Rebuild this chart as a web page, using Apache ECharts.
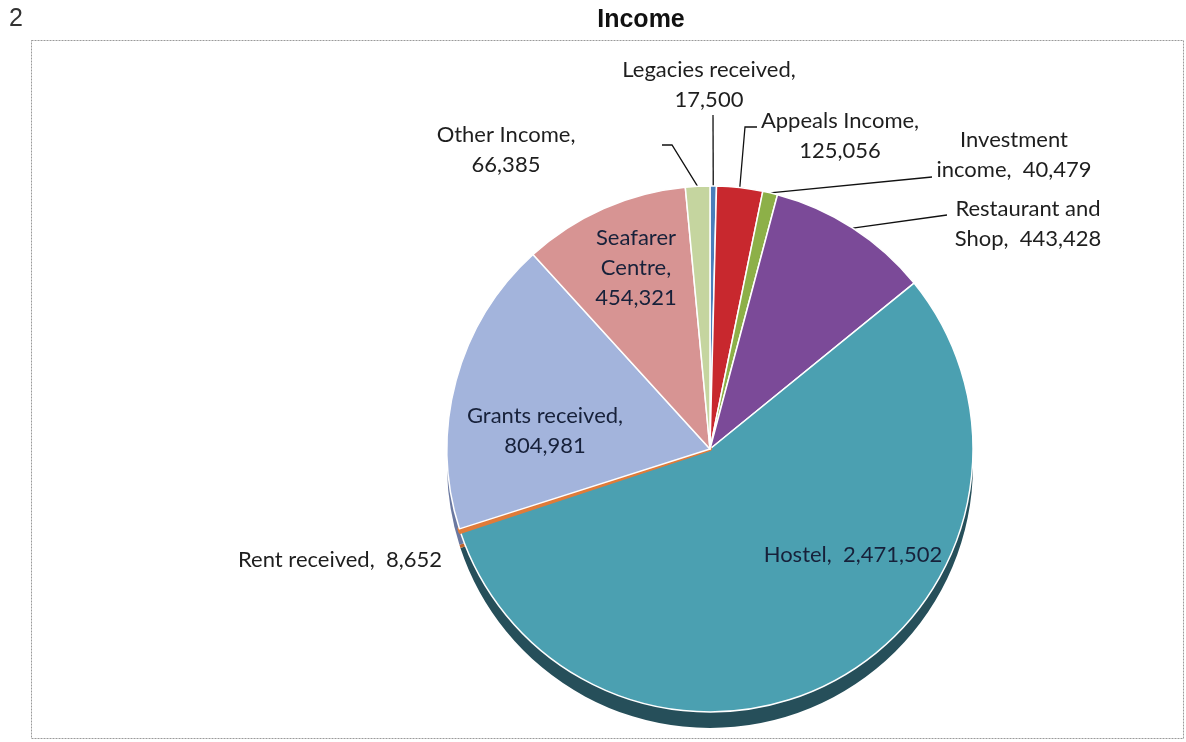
<!DOCTYPE html>
<html>
<head>
<meta charset="utf-8">
<script src="https://cdn.jsdelivr.net/npm/echarts@6/dist/echarts.min.js"></script>
<style>
  html, body { margin: 0; padding: 0; background: #ffffff; }
  #chart { width: 1186px; height: 742px; }
</style>
</head>
<body>
<div id="chart"></div>
<script>
// Income by source, slices run clockwise from 12 o'clock
const categories = [
  'Legacies received', 'Appeals Income', 'Investment income', 'Restaurant and Shop',
  'Hostel', 'Rent received', 'Grants received', 'Seafarer Centre', 'Other Income'
];
const values = [17500, 125056, 40479, 443428, 2471502, 8652, 804981, 454321, 66385];

// Label wording (value appended from the data)
const labelHeads = [
  'Legacies received,\n', 'Appeals Income,\n', 'Investment\nincome,  ', 'Restaurant and\nShop,  ',
  'Hostel,  ', 'Rent received,  ', 'Grants received,\n', 'Seafarer\nCentre,\n', 'Other Income,\n'
];

// Top-face and side colours per slice
const faceColors = ['#4a7ebb', '#c8282e', '#8db048', '#7b4a98', '#4ba0b1', '#e07b39', '#a3b4dc', '#d79493', '#c5d59f'];
const sideColors = ['#2c5282', '#7d1a1e', '#5a7429', '#4b2a60', '#264f5a', '#c0642a', '#6a78a0', '#6e3034', '#8a9868'];

// Where each label block sits
const labelSpots = [
  [709, 85], [840, 136], [1014, 155], [1028, 224],
  [853, 555], [340, 560], [545, 431], [636, 268], [506, 150]
];
const insideLabels = [4, 5, 6, 7];

// Leader-line bends after leaving the slice rim
const leaderBends = {
  0: [[713, 115]],
  1: [[745, 127], [757, 127]],
  2: [[932, 177]],
  3: [[947, 215]],
  8: [[672, 145], [662, 145]]
};

const fmt = v => v.toLocaleString('en-US');

const pieCenter = [710, 449];
const pieRadius = 263;
const depth = 16;

// Mid-angle of every slice, degrees clockwise from 12 o'clock
const total = values.reduce((a, b) => a + b, 0);
const midAngles = [];
values.reduce((acc, v) => { midAngles.push((acc + v / 2) / total * 360); return acc + v; }, 0);

function rimPoint(i) {
  const a = midAngles[i] * Math.PI / 180;
  return [pieCenter[0] + pieRadius * Math.sin(a), pieCenter[1] - pieRadius * Math.cos(a)];
}

const chart = echarts.init(document.getElementById('chart'), null, { renderer: 'canvas' });

const faceData = categories.map((name, i) => ({
  name,
  value: values[i],
  // the thin rent wedge shows its orange side wall along the edge
  itemStyle: i === 5
    ? { color: faceColors[i], borderColor: faceColors[i], borderWidth: 4 }
    : { color: faceColors[i] },
  label: [4, 6, 7].includes(i) ? { color: '#17213a' } : {},
  labelLine: { show: !insideLabels.includes(i) }
}));

const sideData = categories.map((name, i) => ({
  name,
  value: values[i],
  itemStyle: { color: sideColors[i] }
}));

chart.setOption({
  animation: false,
  backgroundColor: '#ffffff',
  title: {
    text: 'Income',
    left: 636,
    top: 3,
    textAlign: 'center',
    textStyle: { fontFamily: 'Liberation Sans', fontWeight: 'bold', fontSize: 25, color: '#111111' }
  },
  graphic: [
    {
      type: 'text', left: 9, top: 7,
      style: { text: '2', font: '25px "Liberation Sans"', fill: '#333333' }
    },
    {
      type: 'rect', z: -10,
      shape: { x: 31.5, y: 40.5, width: 1152, height: 698 },
      style: { fill: 'none', stroke: '#9a9a9a', lineWidth: 1, lineDash: [2, 1] }
    }
  ],
  series: [
    {
      // side walls of the slices, shifted down to suggest depth
      type: 'pie',
      silent: true,
      z: 1,
      center: [pieCenter[0], pieCenter[1] + depth],
      radius: pieRadius,
      startAngle: 90,
      clockwise: true,
      label: { show: false },
      labelLine: { show: false },
      itemStyle: { borderWidth: 0 },
      data: sideData
    },
    {
      type: 'pie',
      z: 2,
      center: pieCenter,
      radius: pieRadius,
      startAngle: 90,
      clockwise: true,
      avoidLabelOverlap: false,
      itemStyle: { borderColor: '#ffffff', borderWidth: 1.5 },
      label: {
        show: true,
        position: 'outside',
        formatter: p => labelHeads[p.dataIndex] + fmt(p.value),
        fontFamily: 'Lato',
        fontSize: 22,
        lineHeight: 30,
        color: '#1e1e1e',
        align: 'center'
      },
      labelLine: {
        show: true,
        length: 20,
        length2: 10,
        lineStyle: { color: '#111111', width: 1.3 }
      },
      labelLayout: p => {
        const i = p.dataIndex;
        const out = {
          x: labelSpots[i][0],
          y: labelSpots[i][1],
          align: 'center',
          verticalAlign: 'middle'
        };
        if (leaderBends[i]) out.labelLinePoints = [rimPoint(i)].concat(leaderBends[i]);
        return out;
      },
      data: faceData
    }
  ]
});
</script>
</body>
</html>
